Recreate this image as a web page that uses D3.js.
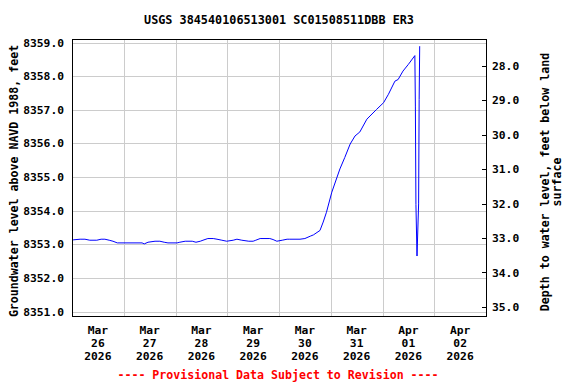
<!DOCTYPE html>
<html>
<head>
<meta charset="utf-8">
<script src="https://cdn.jsdelivr.net/npm/d3@7"></script>
<style>
  body { margin: 0; background: #fff; }
  text { font-family: "DejaVu Sans Mono", monospace; font-weight: bold; fill: #000; }
</style>
</head>
<body>
<div class="container"></div>
<script>
// groundwater level readings (feet NAVD 1988)
const times = [
  "2026-03-26T00:30", "2026-03-26T03:45", "2026-03-26T06:00", "2026-03-26T08:15",
  "2026-03-26T11:30", "2026-03-26T13:30", "2026-03-26T15:15", "2026-03-26T17:15",
  "2026-03-26T19:00", "2026-03-26T21:00", "2026-03-27T08:30", "2026-03-27T09:30",
  "2026-03-27T11:15", "2026-03-27T14:30", "2026-03-27T16:45", "2026-03-27T18:45",
  "2026-03-27T20:30", "2026-03-28T00:45", "2026-03-28T02:00", "2026-03-28T04:30",
  "2026-03-28T07:45", "2026-03-28T09:30", "2026-03-28T11:30", "2026-03-28T12:45",
  "2026-03-28T15:00", "2026-03-28T17:30", "2026-03-28T19:15", "2026-03-28T21:30",
  "2026-03-28T23:45", "2026-03-29T02:45", "2026-03-29T04:30", "2026-03-29T06:45",
  "2026-03-29T10:00", "2026-03-29T12:00", "2026-03-29T13:15", "2026-03-29T15:15",
  "2026-03-29T19:45", "2026-03-29T21:15", "2026-03-29T23:00", "2026-03-30T01:30",
  "2026-03-30T03:45", "2026-03-30T05:00", "2026-03-30T09:45", "2026-03-30T12:00",
  "2026-03-30T14:30", "2026-03-30T16:00", "2026-03-30T19:00", "2026-03-30T20:30",
  "2026-03-30T22:00", "2026-03-31T00:30", "2026-03-31T04:15", "2026-03-31T06:30",
  "2026-03-31T09:00", "2026-03-31T11:15", "2026-03-31T13:30", "2026-03-31T16:45",
  "2026-03-31T21:15", "2026-04-01T00:30", "2026-04-01T02:45", "2026-04-01T05:45",
  "2026-04-01T07:15", "2026-04-01T09:30", "2026-04-01T12:00", "2026-04-01T15:00",
  "2026-04-01T15:15", "2026-04-01T15:30", "2026-04-01T16:00", "2026-04-01T16:45",
  "2026-04-01T17:00", "2026-04-01T17:15"
];
const levels = [
  8353.13, 8353.15, 8353.15, 8353.12,
  8353.12, 8353.15, 8353.15, 8353.12,
  8353.09, 8353.04, 8353.04, 8353.01,
  8353.06, 8353.09, 8353.09, 8353.06,
  8353.04, 8353.04, 8353.06, 8353.09,
  8353.09, 8353.06, 8353.09, 8353.12,
  8353.17, 8353.17, 8353.15, 8353.12,
  8353.09, 8353.12, 8353.15, 8353.12,
  8353.09, 8353.09, 8353.12, 8353.17,
  8353.17, 8353.14, 8353.09, 8353.12,
  8353.15, 8353.15, 8353.15, 8353.17,
  8353.24, 8353.28, 8353.41, 8353.66,
  8353.95, 8354.55, 8355.24, 8355.58,
  8355.98, 8356.22, 8356.34, 8356.72,
  8357.01, 8357.21, 8357.46, 8357.85,
  8357.90, 8358.15, 8358.35, 8358.61,
  8357.11, 8354.18, 8352.65, 8354.20,
  8357.30, 8358.89
];

const leftTicks = [8351, 8352, 8353, 8354, 8355, 8356, 8357, 8358, 8359];
const rightTicks = [28, 29, 30, 31, 32, 33, 34, 35];
const dayLabels = [
  ["Mar", "26", "2026"], ["Mar", "27", "2026"], ["Mar", "28", "2026"], ["Mar", "29", "2026"],
  ["Mar", "30", "2026"], ["Mar", "31", "2026"], ["Apr", "01", "2026"], ["Apr", "02", "2026"]
];

const title = "USGS 384540106513001 SC01508511DBB ER3";
const leftLabel = "Groundwater level above NAVD 1988, feet";
const rightLabel = ["Depth to water level, feet below land", "surface"];
const footer = "---- Provisional Data Subject to Revision ----";

const width = 576;
const height = 384;
const plotL = 72, plotR = 486, plotT = 39, plotB = 316;

const parse = d3.utcParse("%Y-%m-%dT%H:%M");
const data = times.map((t, i) => ({ date: parse(t), value: levels[i] }));

const x = d3.scaleUtc()
    .domain([Date.UTC(2026, 2, 26), Date.UTC(2026, 3, 3)])
    .range([plotL, plotR]);
const y = d3.scaleLinear().domain([8351, 8359]).range([311.5, 42.5]);
const yDepth = d3.scaleLinear().domain([28, 35]).range([65.5, 307]);

const svg = d3.select(".container")
    .append("svg")
    .attr("width", width)
    .attr("height", height);

// grid
const days = d3.utcDay.range(Date.UTC(2026, 2, 27), Date.UTC(2026, 3, 3));
const grid = svg.append("g")
    .attr("stroke", "#cccccc")
    .attr("shape-rendering", "crispEdges");
grid.selectAll("line.h")
    .data(leftTicks)
    .join("line")
    .attr("class", "h")
    .attr("x1", plotL).attr("x2", plotR)
    .attr("y1", d => Math.round(y(d)) + 0.5).attr("y2", d => Math.round(y(d)) + 0.5);
grid.selectAll("line.v")
    .data(days)
    .join("line")
    .attr("class", "v")
    .attr("x1", d => Math.round(x(d)) + 0.5).attr("x2", d => Math.round(x(d)) + 0.5)
    .attr("y1", plotT).attr("y2", plotB);

// data line
const line = d3.line()
    .x(d => x(d.date))
    .y(d => y(d.value));

svg.append("path")
    .datum(data)
    .attr("fill", "none")
    .attr("stroke", "#0000ff")
    .attr("stroke-width", 1)
    .attr("d", line);

// frame
svg.append("rect")
    .attr("x", plotL + 0.5).attr("y", plotT + 0.5)
    .attr("width", plotR - plotL).attr("height", plotB - plotT)
    .attr("fill", "none")
    .attr("stroke", "#000")
    .attr("shape-rendering", "crispEdges");

// left axis labels
svg.append("g")
    .selectAll("text")
    .data(leftTicks)
    .join("text")
    .attr("x", 64)
    .attr("y", d => y(d))
    .attr("dy", "0.36em")
    .attr("text-anchor", "end")
    .style("font-size", "11.3px")
    .text(d => d3.format(".1f")(d));

// right axis ticks + labels
const ra = svg.append("g");
ra.selectAll("line")
    .data(rightTicks)
    .join("line")
    .attr("x1", plotR - 4).attr("x2", plotR)
    .attr("y1", d => Math.round(yDepth(d)) + 0.5).attr("y2", d => Math.round(yDepth(d)) + 0.5)
    .attr("stroke", "#000")
    .attr("shape-rendering", "crispEdges");
ra.selectAll("text")
    .data(rightTicks)
    .join("text")
    .attr("x", 492)
    .attr("y", d => yDepth(d))
    .attr("dy", "0.36em")
    .style("font-size", "11.3px")
    .text(d => d3.format(".1f")(d));

// x labels at noon of each day
const xl = svg.append("g")
    .selectAll("text")
    .data(dayLabels)
    .join("text")
    .attr("text-anchor", "middle")
    .style("font-size", "11.3px")
    .attr("transform", (d, i) => `translate(${x(d3.utcHour.offset(new Date(Date.UTC(2026, 2, 26 + i)), 12))},0)`);
[334, 347, 360].forEach((yy, k) => {
    xl.append("tspan").attr("x", 0).attr("y", yy).text(d => d[k]);
});

// titles
svg.append("text")
    .attr("x", (plotL + plotR) / 2).attr("y", 24)
    .attr("text-anchor", "middle")
    .style("font-size", "11.8px")
    .text(title);

svg.append("text")
    .attr("transform", `translate(18,181) rotate(-90)`)
    .attr("text-anchor", "middle")
    .style("font-size", "11.6px")
    .text(leftLabel);

rightLabel.forEach((t, i) => {
    svg.append("text")
        .attr("transform", `translate(${549 + i * 12},${182}) rotate(-90)`)
        .attr("text-anchor", "middle")
        .style("font-size", "11.6px")
        .text(t);
});

svg.append("text")
    .attr("x", 278).attr("y", 379)
    .attr("text-anchor", "middle")
    .style("font-size", "11.6px")
    .style("fill", "#ff0000")
    .text(footer);
</script>
</body>
</html>
